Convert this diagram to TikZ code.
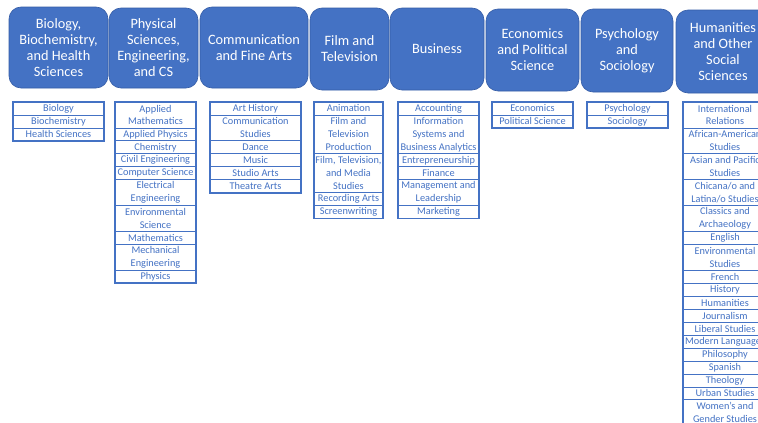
\documentclass[tikz,border=0pt]{standalone}
\usepackage{fontspec}
\setmainfont{Carlito}
\definecolor{hdrblue}{RGB}{68,114,196}
\definecolor{hdrline}{RGB}{52,92,166}
\definecolor{listblue}{RGB}{68,114,196}
\tikzset{
  hdr/.style={rectangle, rounded corners=12pt, fill=hdrblue, draw=hdrline, line width=0.6pt,
    text=white, align=center, font=\fontsize{14.3}{16}\selectfont, inner sep=0pt, outer sep=0pt, anchor=north west},
  row/.style={rectangle, draw=listblue, line width=0.8pt, text=listblue, align=center,
    font=\fontsize{10.3}{12.95}\selectfont, inner sep=0pt, outer sep=0pt},
  frame/.style={draw=listblue, line width=1.7pt}
}
\newcommand\majorlist[4]{%
  \foreach \nl/\txt [count=\i, remember=\i as \j (initially 0)] in {#4} {%
    \ifnum\i=1
      \node[row, minimum width=#3pt, minimum height=\nl*12.95pt, anchor=north west] (#1-\i) at (#2,102) {\txt};
    \else
      \node[row, minimum width=#3pt, minimum height=\nl*12.95pt, anchor=north] (#1-\i) at (#1-\j.south) {\txt};
    \fi
    \xdef\lastrow{\i}
  }
  \draw[frame] (#1-1.north west) rectangle (#1-\lastrow.south east);
}
\begin{document}
\begin{tikzpicture}[x=1pt,y=-1pt]
\useasboundingbox (0,0) rectangle (758,423);
\clip (0,0) rectangle (758,423);
\fill[white] (0,0) rectangle (758,423);
% headers
\node[hdr, minimum width=99pt, minimum height=81pt] (h1) at (9,7) {Biology,\\Biochemistry,\\and Health\\Sciences};
\node[hdr, minimum width=89pt, minimum height=80pt] (h2) at (109,8) {Physical\\Sciences,\\Engineering,\\and CS};
\node[hdr, minimum width=108pt, minimum height=81pt] (h3) at (200,7) {Communication\\and Fine Arts};
\node[hdr, minimum width=79pt, minimum height=82pt] (h4) at (310,8) {Film and\\Television};
\node[hdr, minimum width=94pt, minimum height=82pt] (h5) at (390,8) {Business};
\node[hdr, minimum width=93pt, minimum height=82pt] (h6) at (486,9) {Economics\\and Political\\Science};
\node[hdr, minimum width=92pt, minimum height=83pt] (h7) at (581,9) {Psychology\\and\\Sociology};
\node[hdr, minimum width=94pt, minimum height=83pt] (h8) at (676,10) {Humanities\\and Other\\Social\\Sciences};
% lists
\majorlist{c1}{13}{91}{1/Biology, 1/Biochemistry, 1/Health Sciences}
\majorlist{c2}{115}{81}{2/Applied\\Mathematics, 1/Applied Physics, 1/Chemistry, 1/Civil Engineering,
  1/Computer Science, 2/Electrical\\Engineering, 2/Environmental\\Science, 1/Mathematics,
  2/Mechanical\\Engineering, 1/Physics}
\majorlist{c3}{210}{91}{1/Art History, 2/Communication\\Studies, 1/Dance, 1/Music, 1/Studio Arts, 1/Theatre Arts}
\majorlist{c4}{314}{69}{1/Animation, 3/Film and\\Television\\Production, 3/Film{,} Television{,}\\and Media\\Studies,
  1/Recording Arts, 1/Screenwriting}
\majorlist{c5}{398}{81}{1/Accounting, 3/Information\\Systems and\\Business Analytics, 1/Entrepreneurship,
  1/Finance, 2/Management and\\Leadership, 1/Marketing}
\majorlist{c6}{492}{81}{1/Economics, 1/Political Science}
\majorlist{c7}{587}{81}{1/Psychology, 1/Sociology}
\majorlist{c8}{683}{84}{2/International\\Relations, 2/African-American\\Studies, 2/Asian and Pacific\\Studies,
  2/{Chicana/o and\\Latina/o Studies}, 2/Classics and\\Archaeology, 1/English, 2/Environmental\\Studies,
  1/French, 1/History, 1/Humanities, 1/Journalism, 1/Liberal Studies, 1/Modern Languages,
  1/Philosophy, 1/Spanish, 1/Theology, 1/Urban Studies, 2/Women's and\\Gender Studies}
\end{tikzpicture}
\end{document}
